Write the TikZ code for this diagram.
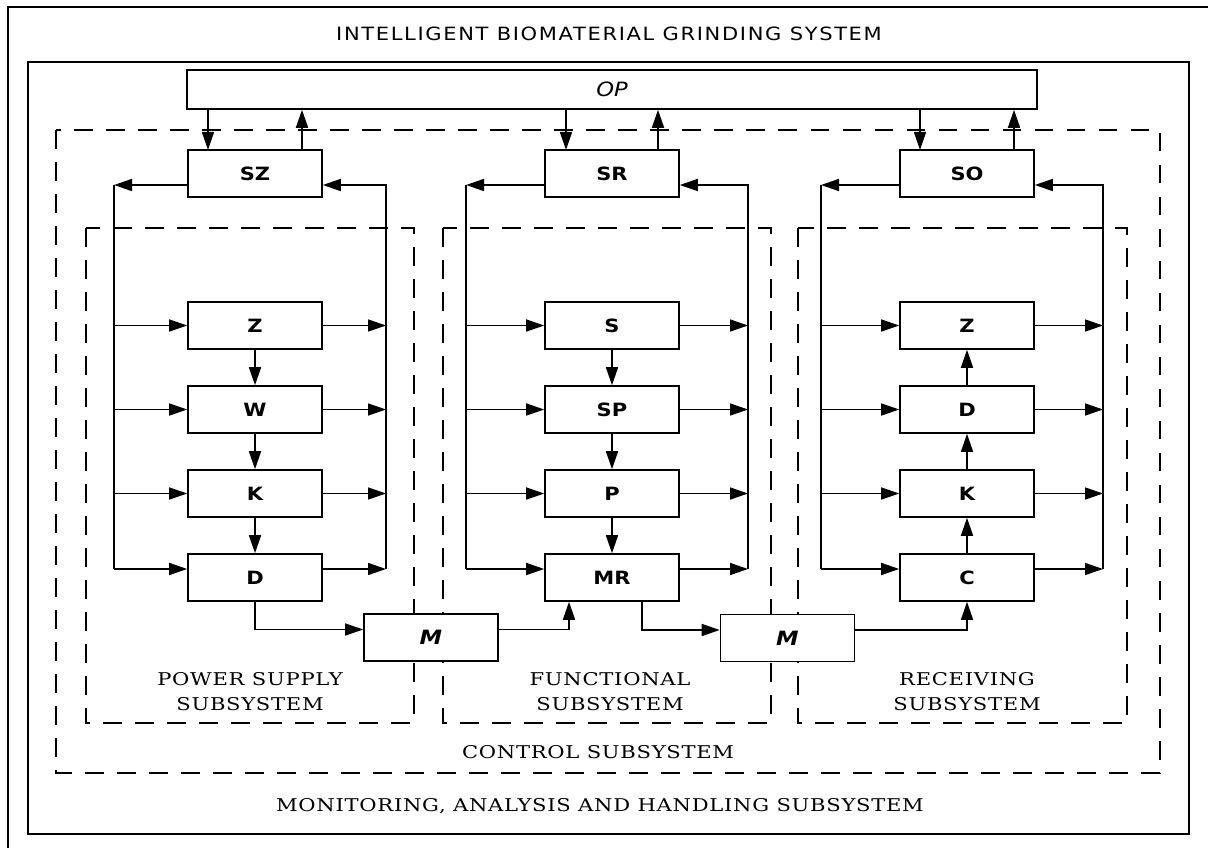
\documentclass[tikz,border=0pt]{standalone}
\usepackage{fontspec}
\usetikzlibrary{positioning,arrows.meta}
\newfontfamily\blockfont[FakeStretch=1.15]{DejaVu Sans}
\newfontfamily\headfont[FakeStretch=1.15, LetterSpace=9]{DejaVu Sans}
\newfontfamily\labelfont[FakeStretch=1.2, LetterSpace=4]{DejaVu Serif}
\tikzset{
  flowarrow/.style={-{Triangle[length=4.5mm,width=3mm]}, line width=1.1pt},
  block/.style={draw, fill=white, line width=1.1pt, minimum width=3.35cm, minimum height=1.175cm, inner sep=0pt, font=\blockfont\fontsize{13}{15}\selectfont\bfseries},
  opbox/.style={draw, line width=1.1pt, minimum width=21.25cm, minimum height=0.975cm, inner sep=0pt, font=\blockfont\fontsize{14}{16}\selectfont\itshape},
  mbox/.style={block, font=\blockfont\fontsize{14}{16}\selectfont\bfseries\itshape},
  subframe/.style={line width=1.1pt, dash pattern=on 0.47cm off 0.33cm},
  framelabel/.style={font=\labelfont\fontsize{12.5}{17.8}\selectfont, align=center, inner sep=0pt},
  headlabel/.style={font=\headfont\fontsize{13}{15}\selectfont, inner sep=0pt}
}
\begin{document}
\begin{tikzpicture}[x=0.025cm, y=-0.025cm, line width=1.1pt]
  \useasboundingbox (0,0) rectangle (1208,847);
  \draw (8,7) rectangle (1230,870);
  \draw (28,62) rectangle (1189,834);
  \draw[subframe] (56,130) rectangle (1160,773);
  \draw[subframe] (86,228) rectangle (414,723);
  \draw[subframe] (443,228) rectangle (771,723);
  \draw[subframe] (798,228) rectangle (1127,723);

  \node[headlabel] (title) at (609,34) {INTELLIGENT BIOMATERIAL GRINDING SYSTEM};
  \node[opbox] (op) at (612,89.5) {OP};
  \node[block] (sz) at (255,173.5) {SZ};
  \node[block] (sr) at (612,173.5) {SR};
  \node[block] (so) at (967,173.5) {SO};

  \node[block] (pz) at (255,325.5) {Z};
  \node[block] (pw) at (255,409.5) {W};
  \node[block] (pk) at (255,493.5) {K};
  \node[block] (pd) at (255,577.5) {D};
  \node[block] (fs) at (612,325.5) {S};
  \node[block] (fsp) at (612,409.5) {SP};
  \node[block] (fp) at (612,493.5) {P};
  \node[block] (fmr) at (612,577.5) {MR};
  \node[block] (rz) at (967,325.5) {Z};
  \node[block] (rd) at (967,409.5) {D};
  \node[block] (rk) at (967,493.5) {K};
  \node[block] (rc) at (967,577.5) {C};
  \node[mbox] (m1) at (431,637.5) {M};
  \node[mbox] (m2) at (787.5,638) {M};

  \node[framelabel] (pslabel) at (250,692) {POWER SUPPLY\\SUBSYSTEM};
  \node[framelabel] (fslabel) at (610,692) {FUNCTIONAL\\SUBSYSTEM};
  \node[framelabel] (rslabel) at (967,692) {RECEIVING\\SUBSYSTEM};
  \node[framelabel] (cslabel) at (598,752) {CONTROL SUBSYSTEM};
  \node[framelabel] (mslabel) at (600,806) {MONITORING, ANALYSIS AND HANDLING SUBSYSTEM};

  \coordinate (szin) at (208,150);
  \coordinate (szout) at (302,150);
  \coordinate (srin) at (566,150);
  \coordinate (srout) at (658,150);
  \coordinate (soin) at (920,150);
  \coordinate (soout) at (1014,150);
  \draw[flowarrow] (szin |- op.south) -- (szin);
  \draw[flowarrow] (szout) -- (szout |- op.south);
  \draw[flowarrow] (srin |- op.south) -- (srin);
  \draw[flowarrow] (srout) -- (srout |- op.south);
  \draw[flowarrow] (soin |- op.south) -- (soin);
  \draw[flowarrow] (soout) -- (soout |- op.south);

  \coordinate (pl1) at (114,185);
  \coordinate (pl2) at (114,569);
  \coordinate (pr1) at (386,185);
  \coordinate (pr2) at (386,569);
  \draw[flowarrow] (sz.west |- pl1) -- (pl1);
  \draw (pl1) -- (pl2);
  \draw[flowarrow] (pr2) -- (pr1) -- (sz.east |- pr1);
  \draw[flowarrow] (pl1 |- pz) -- (pz);
  \draw[flowarrow] (pl1 |- pw) -- (pw);
  \draw[flowarrow] (pl1 |- pk) -- (pk);
  \draw[flowarrow] (pl2) -- (pl2 -| pd.west);
  \draw[flowarrow] (pz) -- (pr1 |- pz);
  \draw[flowarrow] (pw) -- (pr1 |- pw);
  \draw[flowarrow] (pk) -- (pr1 |- pk);
  \draw[flowarrow] (pd.east |- pr2) -- (pr2);
  \draw[flowarrow] (pz) -- (pw);
  \draw[flowarrow] (pw) -- (pk);
  \draw[flowarrow] (pk) -- (pd);

  \coordinate (fl1) at (466,185);
  \coordinate (fl2) at (466,569);
  \coordinate (fr1) at (748,185);
  \coordinate (fr2) at (748,569);
  \draw[flowarrow] (sr.west |- fl1) -- (fl1);
  \draw (fl1) -- (fl2);
  \draw[flowarrow] (fr2) -- (fr1) -- (sr.east |- fr1);
  \draw[flowarrow] (fl1 |- fs) -- (fs);
  \draw[flowarrow] (fl1 |- fsp) -- (fsp);
  \draw[flowarrow] (fl1 |- fp) -- (fp);
  \draw[flowarrow] (fl2) -- (fl2 -| fmr.west);
  \draw[flowarrow] (fs) -- (fr1 |- fs);
  \draw[flowarrow] (fsp) -- (fr1 |- fsp);
  \draw[flowarrow] (fp) -- (fr1 |- fp);
  \draw[flowarrow] (fmr.east |- fr2) -- (fr2);
  \draw[flowarrow] (fs) -- (fsp);
  \draw[flowarrow] (fsp) -- (fp);
  \draw[flowarrow] (fp) -- (fmr);

  \coordinate (rl1) at (821,185);
  \coordinate (rl2) at (821,569);
  \coordinate (rr1) at (1103,185);
  \coordinate (rr2) at (1103,569);
  \draw[flowarrow] (so.west |- rl1) -- (rl1);
  \draw (rl1) -- (rl2);
  \draw[flowarrow] (rr2) -- (rr1) -- (so.east |- rr1);
  \draw[flowarrow] (rl1 |- rz) -- (rz);
  \draw[flowarrow] (rl1 |- rd) -- (rd);
  \draw[flowarrow] (rl1 |- rk) -- (rk);
  \draw[flowarrow] (rl2) -- (rl2 -| rc.west);
  \draw[flowarrow] (rz) -- (rr1 |- rz);
  \draw[flowarrow] (rd) -- (rr1 |- rd);
  \draw[flowarrow] (rk) -- (rr1 |- rk);
  \draw[flowarrow] (rc.east |- rr2) -- (rr2);
  \draw[flowarrow] (rc) -- (rk);
  \draw[flowarrow] (rk) -- (rd);
  \draw[flowarrow] (rd) -- (rz);

  \coordinate (mrin) at ([xshift=-1.075cm]fmr.south);
  \coordinate (mrout) at ([xshift=0.75cm]fmr.south);
  \draw[flowarrow] (pd) |- ([yshift=0.2cm]m1.west);
  \draw[flowarrow] ([yshift=0.2cm]m1.east) -| (mrin);
  \draw[flowarrow] (mrout) |- ([yshift=0.2cm]m2.west);
  \draw[flowarrow] ([yshift=0.2cm]m2.east) -| (rc);
\end{tikzpicture}
\end{document}
